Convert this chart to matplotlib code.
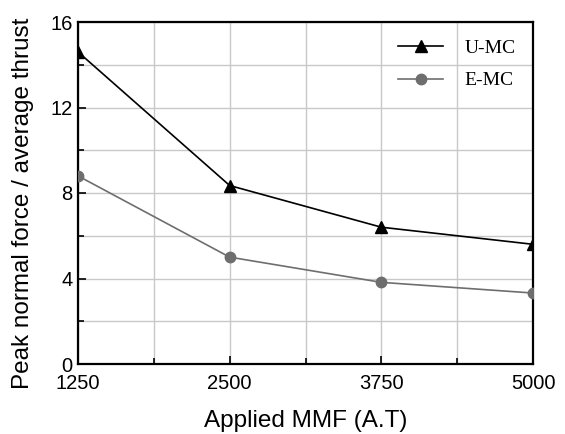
import matplotlib.pyplot as plt
from matplotlib.ticker import MultipleLocator

mmf = [1250, 2500, 3750, 5000]
u_mc = [14.6, 8.35, 6.4, 5.6]
e_mc = [8.8, 5.0, 3.82, 3.32]

fig = plt.figure(figsize=(5.65, 4.34), dpi=100)
ax = fig.add_axes([78/565, 1 - 364/434, (533-78)/565, (364-22)/434])

ax.plot(mmf, u_mc, "-", color="black", lw=1.2, marker="^", ms=9, label="U-MC",
        zorder=5)
ax.plot(mmf, e_mc, "-", color="#6e6e6e", lw=1.2, marker="o", ms=7.5, label="E-MC",
        zorder=5)

ax.set_xlim(1250, 5000)
ax.set_ylim(0, 16)
ax.set_xticks(mmf)
ax.xaxis.set_minor_locator(MultipleLocator(625))
ax.yaxis.set_major_locator(MultipleLocator(4))
ax.yaxis.set_minor_locator(MultipleLocator(2))
ax.grid(True, which="both", color="#c8c8c8", lw=1.0)
ax.set_axisbelow(True)

ax.tick_params(which="both", direction="in", top=False, right=False)
ax.tick_params(which="major", length=6, width=1.2, labelsize=14.5)
ax.tick_params(axis="x", which="major", pad=7.5)
ax.tick_params(axis="y", which="major", pad=4)
ax.tick_params(which="minor", length=4, width=1.2)
for lab in ax.get_xticklabels() + ax.get_yticklabels():
    lab.set_fontfamily("Liberation Sans")
for s in ax.spines.values():
    s.set_linewidth(1.6)

ax.set_xlabel("Applied MMF (A.T)", fontsize=17.5, family="Liberation Sans", labelpad=12)
ax.set_ylabel("Peak normal force / average thrust", fontsize=17.5,
              family="Liberation Sans")
ax.yaxis.set_label_coords(-0.097, 0.47)

ax.legend(loc="upper right", frameon=False, handlelength=2.3,
          prop={"family": "Liberation Serif", "size": 14},
          borderaxespad=0.5, labelspacing=0.75, handletextpad=1.1)

fig.savefig("out.png", dpi=100)
